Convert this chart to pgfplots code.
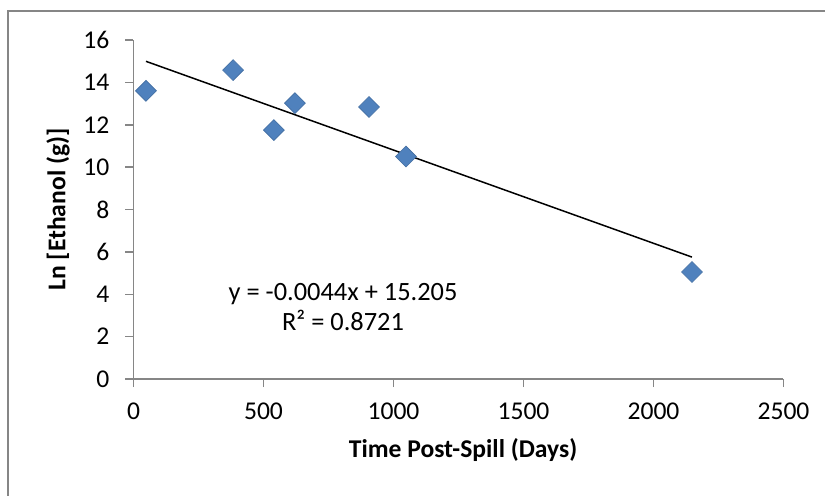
\documentclass[border=0pt]{standalone}
\usepackage{pgfplots}
\pgfplotsset{compat=1.18}
\usepackage{fontspec}
\setmainfont{Carlito}

\definecolor{framegray}{RGB}{134,134,134}
\definecolor{ptblue}{RGB}{79,129,189}

\begin{document}
\begin{tikzpicture}
  % image is 825x495 px, 1px = 0.5pt; axis origin at px (133.5,379)
  \useasboundingbox (-66.75pt,-58pt) rectangle (345.75pt,189.5pt);
  \draw[framegray, line width=0.75pt] (-62.75pt,-70pt) rectangle (360pt,184pt);
  \begin{axis}[
      at={(0,0)}, anchor=origin,
      scale only axis,
      width=325pt, height=169.5pt,
      xmin=0, xmax=2500, ymin=0, ymax=16,
      xtick={0,500,...,2500}, ytick={0,2,...,16},
      axis x line=bottom, axis y line=left,
      axis line style={framegray, line width=0.75pt, -},
      tick style={framegray, line width=0.75pt},
      tick align=outside, major tick length=4pt,
      every tick label/.append style={font=\fontsize{12.8}{14}\selectfont},
      yticklabel style={xshift=-4.5pt},
      xticklabel style={yshift=-4.5pt},
      /pgf/number format/assume math mode=true,
      /pgf/number format/1000 sep={},
      xlabel={\textbf{Time Post-Spill (Days)}},
      ylabel={\textbf{Ln [Ethanol (g)]}},
      label style={font=\fontsize{12.8}{14}\selectfont},
      xlabel style={at={(axis description cs:0.507,-0.209)}, anchor=center},
      ylabel style={at={(axis description cs:-0.116,0.5)}, anchor=center},
      clip=false,
    ]
    \addplot[only marks, mark=square*, mark size=3.7pt,
      mark options={rotate=45, fill=ptblue, draw=ptblue!85!black, line width=0.3pt}]
      coordinates {
        (48,13.6)
        (383,14.58)
        (540,11.75)
        (621,13.02)
        (906,12.84)
        (1048,10.5)
        (2148,5.05)
      };
    \addplot[black, line width=0.75pt] coordinates {
        (48,14.994)
        (2148,5.754)
      };
    \node[align=center, font=\fontsize{13.2}{15}\selectfont] at (axis cs:806,3.4)
      {y = -0.0044x + 15.205\\R² = 0.8721};
  \end{axis}
\end{tikzpicture}
\end{document}
